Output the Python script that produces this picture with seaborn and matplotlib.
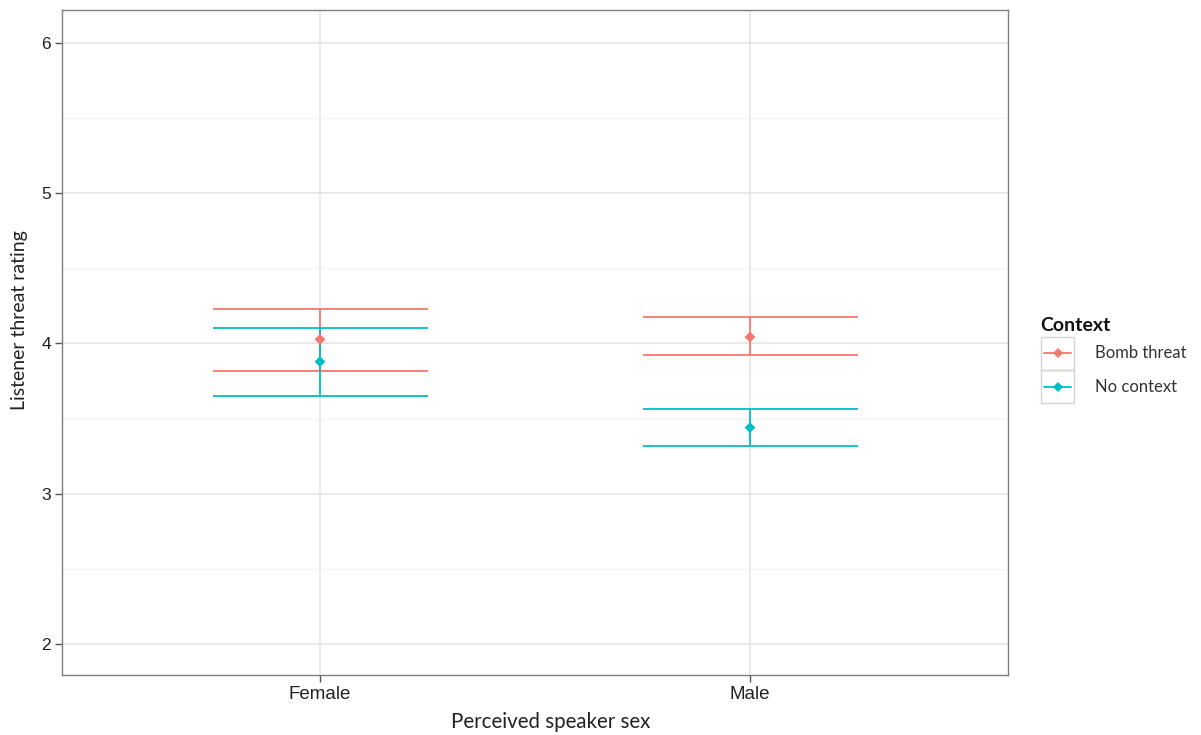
import numpy as np
import pandas as pd
import matplotlib
matplotlib.use("Agg")
import matplotlib.pyplot as plt
from matplotlib.lines import Line2D
from matplotlib.patches import Rectangle
from matplotlib.ticker import MultipleLocator
import seaborn as sns

# Mean threat ratings with confidence limits per speaker sex and context
speaker_sex = ["Female", "Male"]
contexts = ["Bomb threat", "No context"]
bomb_mean = [4.027, 4.043]
bomb_low = [3.82, 3.925]
bomb_high = [4.227, 4.173]
none_mean = [3.88, 3.44]
none_low = [3.653, 3.32]
none_high = [4.10, 3.567]

palette = {"Bomb threat": "#F8766D", "No context": "#00BFC4"}

rows = []
for ctx, m, lo, hi in [("Bomb threat", bomb_mean, bomb_low, bomb_high),
                       ("No context", none_mean, none_low, none_high)]:
    for i, sex in enumerate(speaker_sex):
        rows.append({"sex": sex, "pos": i + 1, "context": ctx,
                     "rating": m[i], "low": lo[i], "high": hi[i]})
df = pd.DataFrame(rows)

sns.set_theme(style="white")
plt.rcParams["font.family"] = ["Liberation Sans", "DejaVu Sans"]
LABEL_FONT = ["Lato", "DejaVu Sans"]

fig = plt.figure(figsize=(12.01, 7.35), dpi=100)
W, H = 1201, 735
ax = fig.add_axes([62 / W, (H - 675) / H, (1008 - 62) / W, (675 - 10) / H])
ax.set_facecolor("white")

# grid: major, minor and category lines
for y in [2, 3, 4, 5, 6]:
    ax.axhline(y, color="#E3E3E3", lw=1.1, zorder=0)
for y in [2.5, 3.5, 4.5, 5.5]:
    ax.axhline(y, color="#F2F2F2", lw=0.8, zorder=0)
for x in [1, 2]:
    ax.axvline(x, color="#E3E3E3", lw=1.1, zorder=0)

# error bars: vertical stems and wide caps
cap = 0.25
for ctx, sub in df.groupby("context"):
    c = palette[ctx]
    ax.vlines(sub["pos"], sub["low"], sub["high"], color=c, lw=1.3, zorder=2)
    ax.hlines(sub["low"], sub["pos"] - cap, sub["pos"] + cap, color=c, lw=1.3, zorder=2)
    ax.hlines(sub["high"], sub["pos"] - cap, sub["pos"] + cap, color=c, lw=1.3, zorder=2)

sns.scatterplot(data=df, x="pos", y="rating", hue="context", palette=palette,
                marker="D", s=30, edgecolor="none", legend=False, ax=ax, zorder=3)

ax.set_xlim(0.4, 2.6)
ax.set_ylim(1.793, 6.22)
ax.set_xticks([1, 2])
ax.set_xticklabels(speaker_sex)
ax.yaxis.set_major_locator(MultipleLocator(1))
ax.tick_params(axis="both", which="major", length=5, width=1, color="#555555",
               labelsize=12.5, labelcolor="#222222", direction="out",
               bottom=True, left=True, pad=3)
ax.tick_params(axis="x", labelsize=13.5)
for sp in ax.spines.values():
    sp.set_color("#7F7F7F")
    sp.set_linewidth(1.0)

ax.set_xlabel("Perceived speaker sex", fontsize=14.8, family=LABEL_FONT,
              color="#222222", va="center")
ax.set_ylabel("Listener threat rating", fontsize=14, family=LABEL_FONT,
              color="#222222", va="center")
ax.xaxis.set_label_coords(0.517, -0.0707)
ax.yaxis.set_label_coords(-0.0444, 0.534)

# legend to the right of the panel, drawn in figure pixels
def fx(px):
    return px / W

def fy(py):
    return (H - py) / H

fig.text(fx(1040), fy(325), "Context", fontsize=14, fontweight="bold",
         family=LABEL_FONT, color="#111111", va="center", ha="left")
for ctx, top in zip(contexts, [337, 370]):
    fig.patches.append(Rectangle((fx(1041), fy(top + 33)), 33 / W, 33 / H,
                                 transform=fig.transFigure, fill=False,
                                 edgecolor="#D4D4D4", lw=1.0))
    yc = top + 16.5
    fig.lines.append(Line2D([fx(1044), fx(1071)], [fy(yc), fy(yc)],
                            transform=fig.transFigure, color=palette[ctx], lw=1.3))
    fig.lines.append(Line2D([fx(1058)], [fy(yc)], transform=fig.transFigure,
                            color=palette[ctx], marker="D", markersize=5,
                            markeredgewidth=0, linestyle="none"))
    fig.text(fx(1095), fy(yc), ctx, fontsize=12, family=LABEL_FONT,
             color="#333333", va="center", ha="left")

fig.savefig("out.png", dpi=100, facecolor="white")
